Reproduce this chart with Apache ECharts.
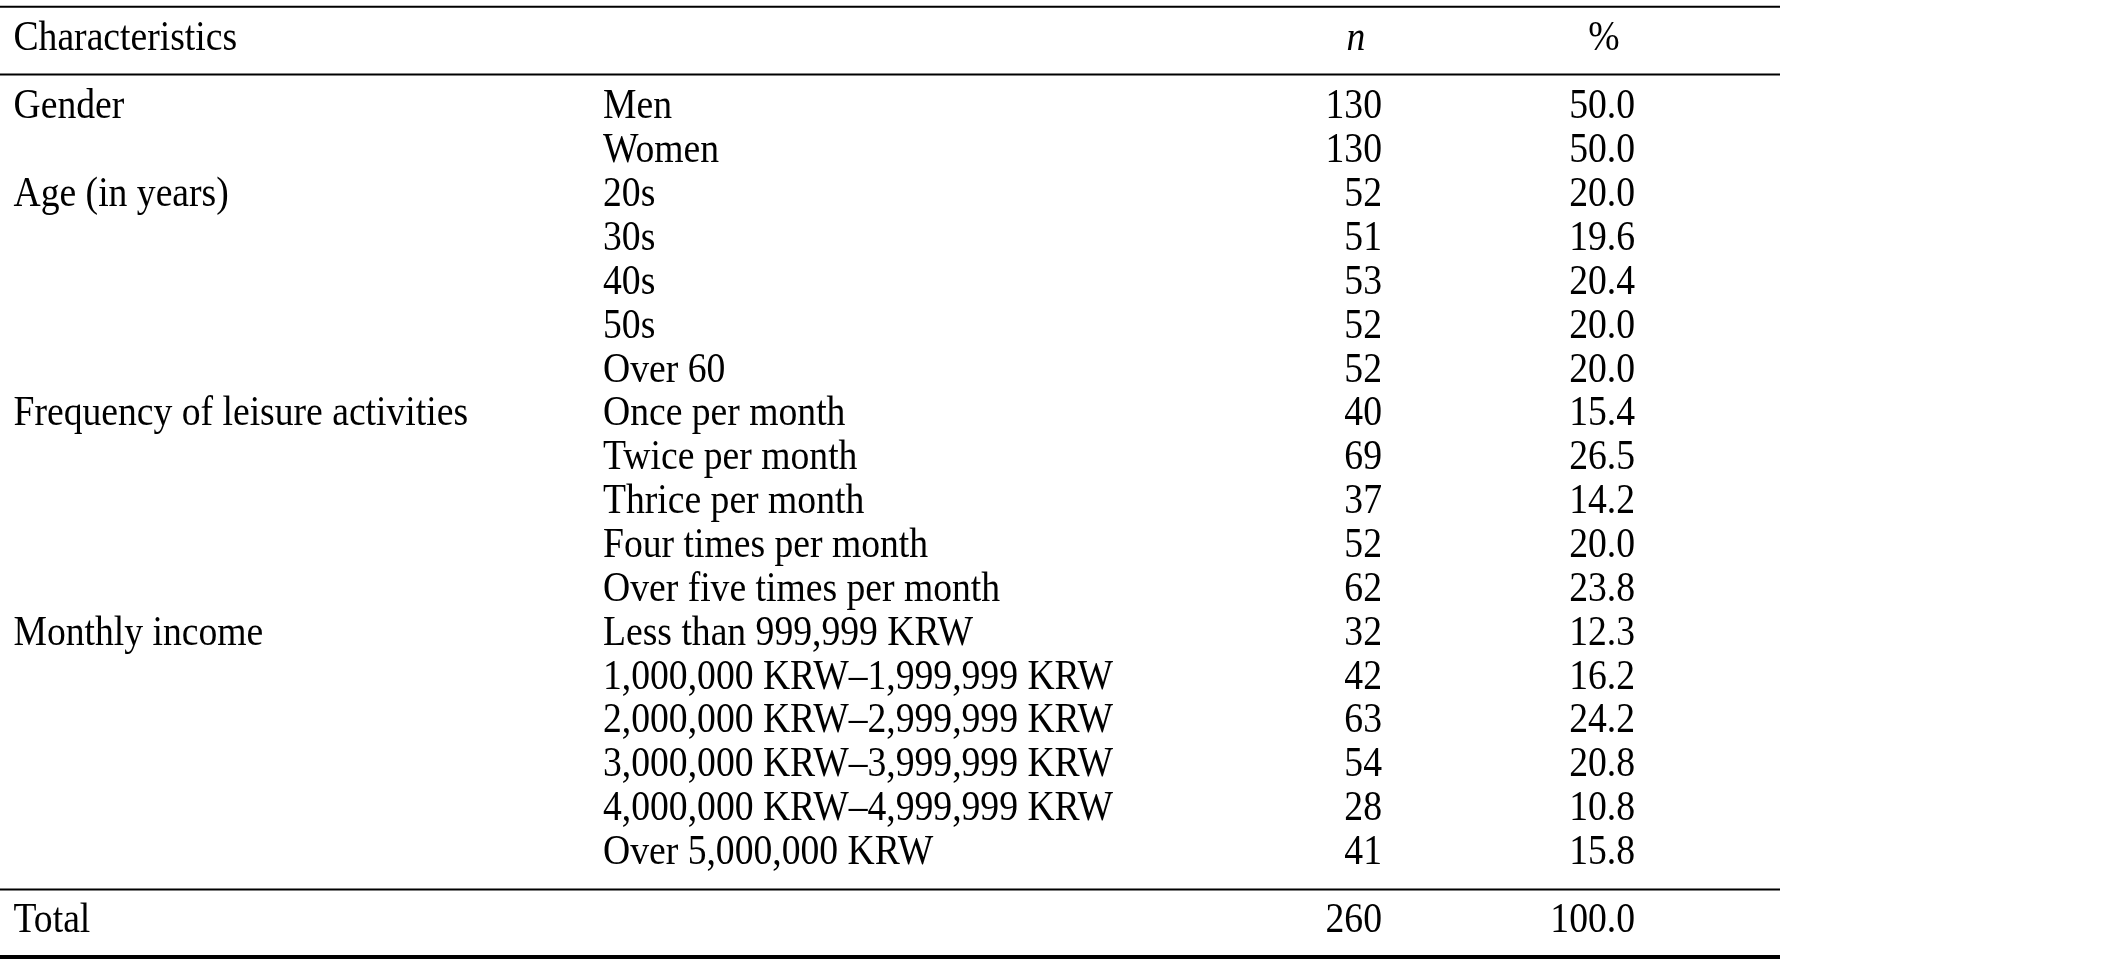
<!DOCTYPE html>
<html>
<head>
<meta charset="utf-8">
<script src="https://cdn.jsdelivr.net/npm/echarts@6/dist/echarts.min.js"></script>
<style>
html,body{margin:0;padding:0;background:#fff;}
#main{width:2126px;height:969px;}
</style>
</head>
<body>
<div id="main"></div>
<script>
// ---- data ----
const headers = ['Characteristics', 'n', '%'];
const groupLabels = ['Gender', 'Age (in years)', 'Frequency of leisure activities', 'Monthly income'];
const groupStartRows = [0, 2, 7, 12];
const subcategories = [
  'Men', 'Women',
  '20s', '30s', '40s', '50s', 'Over 60',
  'Once per month', 'Twice per month', 'Thrice per month', 'Four times per month', 'Over five times per month',
  'Less than 999,999 KRW', '1,000,000 KRW\u20131,999,999 KRW', '2,000,000 KRW\u20132,999,999 KRW',
  '3,000,000 KRW\u20133,999,999 KRW', '4,000,000 KRW\u20134,999,999 KRW', 'Over 5,000,000 KRW'
];
const nValues = [130, 130, 52, 51, 53, 52, 52, 40, 69, 37, 52, 62, 32, 42, 63, 54, 28, 41];
const pctValues = [50.0, 50.0, 20.0, 19.6, 20.4, 20.0, 20.0, 15.4, 26.5, 14.2, 20.0, 23.8, 12.3, 16.2, 24.2, 20.8, 10.8, 15.8];
const totalLabel = 'Total';
const totalN = 260;
const totalPct = 100.0;

// ---- layout (axis units) ----
const headerRow = -1.55;
const totalRow = 18.55;
const ruleRows = [-2.225, -0.68, 17.9, 19.44];
const ruleWidths = [2, 2, 2, 4];
const colX = [13.5, 603, 1382, 1635];      // anchors on x axis
const headerX = [13.5, 1356, 1604];
const FONT_SIZE = 42;
const SCALE_X = 0.896;
const TEXT_DY = 3;
const FAMILY = '"Liberation Serif", "Times New Roman", serif';

// build cells: [x, row, text, align, italic]
const cells = [];
cells.push([headerX[0], headerRow, headers[0], 'left', 0]);
cells.push([headerX[1], headerRow, headers[1], 'center', 1]);
cells.push([headerX[2], headerRow, headers[2], 'center', 0]);
groupLabels.forEach((g, i) => cells.push([colX[0], groupStartRows[i], g, 'left', 0]));
subcategories.forEach((s, i) => {
  cells.push([colX[1], i, s, 'left', 0]);
  cells.push([colX[2], i, String(nValues[i]), 'right', 0]);
  cells.push([colX[3], i, pctValues[i].toFixed(1), 'right', 0]);
});
cells.push([colX[0], totalRow, totalLabel, 'left', 0]);
cells.push([colX[2], totalRow, String(totalN), 'right', 0]);
cells.push([colX[3], totalRow, totalPct.toFixed(1), 'right', 0]);

const rules = ruleRows.map((r, i) => [r, ruleWidths[i]]);

const chart = echarts.init(document.getElementById('main'), null, {renderer: 'canvas'});
chart.setOption({
  backgroundColor: '#ffffff',
  animation: false,
  grid: {left: 0, right: 346, top: 0, bottom: 0},
  xAxis: {type: 'value', min: 0, max: 1780, show: false},
  yAxis: {type: 'value', min: -2.38, max: 19.713, inverse: true, show: false},
  series: [
    {
      type: 'custom',
      data: rules,
      renderItem: function (params, api) {
        const y = api.value(0);
        const w = api.value(1);
        const p0 = api.coord([0, y]);
        const p1 = api.coord([1780, y]);
        return {
          type: 'line',
          shape: {x1: p0[0], y1: p0[1], x2: p1[0], y2: p1[1]},
          style: {stroke: '#000', lineWidth: w}
        };
      }
    },
    {
      type: 'custom',
      data: cells,
      renderItem: function (params, api) {
        const d = cells[params.dataIndex];
        const p = api.coord([d[0], d[1]]);
        return {
          type: 'text',
          x: p[0],
          y: p[1] + TEXT_DY,
          scaleX: SCALE_X,
          style: {
            text: d[2],
            x: 0, y: 0,
            align: d[3],
            verticalAlign: 'middle',
            fill: '#000',
            fontFamily: FAMILY,
            fontSize: FONT_SIZE,
            fontStyle: d[4] ? 'italic' : 'normal'
          }
        };
      }
    }
  ]
});
</script>
</body>
</html>
